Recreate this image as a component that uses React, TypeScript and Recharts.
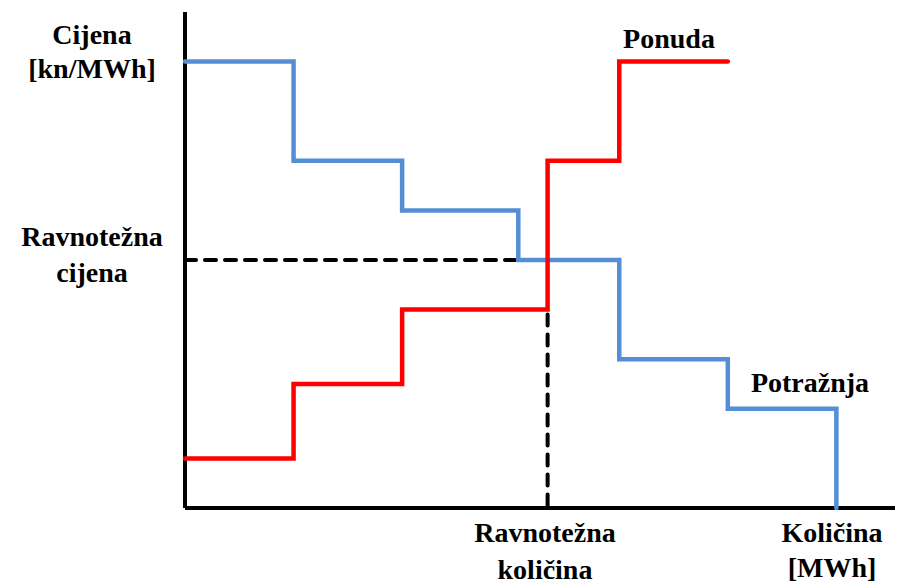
import { LineChart, Line, XAxis, YAxis, ReferenceLine } from 'recharts';

// demand (blue) and supply (red) step curves, quantity x / price y
const demandX = [0, 1, 1, 2, 2, 3.07, 3.07, 4, 4, 5, 5, 6, 6];
const demandY = [9, 9, 7, 7, 6, 6, 5, 5, 3, 3, 2, 2, 0];
const supplyX = [0, 1, 1, 2, 2, 3.34, 3.34, 4, 4, 5];
const supplyY = [1, 1, 2.5, 2.5, 4, 4, 7, 7, 9, 9];
const eqPriceX = [0, 3.04];
const eqPriceY = [5, 5];
const eqQtyX = [3.34, 3.34];
const eqQtyY = [3.9, 0];

const yLabel = ['Cijena', '[kn/MWh]'];
const eqPriceLabel = ['Ravnotežna', 'cijena'];
const eqQtyLabel = ['Ravnotežna', 'količina'];
const xLabel = ['Količina', '[MWh]'];
const supplyName = 'Ponuda';
const demandName = 'Potražnja';

const toPoints = (xs: number[], ys: number[]) => xs.map((x, i) => ({ x, y: ys[i] }));

const W = 897;
const H = 586;

// serif bold only comes out right up to 28px in this browser
function TwoLines({ lines, x, y, gap = 36 }: { lines: string[]; x: number; y: number; gap?: number }) {
  return (
    <>
      {lines.map((t, i) => (
        <text key={i} x={x} y={y + i * gap} textAnchor="middle" fill="#000"
          style={{ fontFamily: 'Liberation Serif', fontWeight: 700, fontSize: 28 }}>{t}</text>
      ))}
    </>
  );
}

export default function App() {
  return (
    <div style={{ position: 'absolute', left: 0, top: 0, width: W, height: H, background: '#fff' }}>
      <LineChart width={W} height={H} margin={{ top: 12, right: 2, bottom: 77, left: 184 }}>
        <XAxis dataKey="x" type="number" domain={[0, 6.54]} height={1} tick={false} tickLine={false} axisLine={false} />
        <YAxis type="number" domain={[0, 10]} width={1} tick={false} tickLine={false} axisLine={false} />
        <ReferenceLine x={0} stroke="#000" strokeWidth={4} />
        <ReferenceLine y={0} stroke="#000" strokeWidth={4} />
        <Line data={toPoints(eqPriceX, eqPriceY)} dataKey="y" stroke="#000" strokeWidth={4}
          strokeDasharray="11 9" strokeLinecap="round" dot={false} activeDot={false} isAnimationActive={false} />
        <Line data={toPoints(eqQtyX, eqQtyY)} dataKey="y" stroke="#000" strokeWidth={4}
          strokeDasharray="11 9" strokeLinecap="round" dot={false} activeDot={false} isAnimationActive={false} />
        <Line data={toPoints(demandX, demandY)} dataKey="y" stroke="#558ED5" strokeWidth={4.5}
          strokeLinecap="round" dot={false} activeDot={false} isAnimationActive={false} />
        <Line data={toPoints(supplyX, supplyY)} dataKey="y" stroke="#FF0000" strokeWidth={4.5}
          strokeLinecap="round" dot={false} activeDot={false} isAnimationActive={false} />
      </LineChart>
      <svg width={W} height={H} style={{ position: 'absolute', left: 0, top: 0, pointerEvents: 'none' }}>
        <TwoLines lines={yLabel} x={92} y={44} gap={34} />
        <TwoLines lines={eqPriceLabel} x={92} y={246} />
        <TwoLines lines={[supplyName]} x={669} y={48} />
        <TwoLines lines={[demandName]} x={810} y={392} />
        <TwoLines lines={eqQtyLabel} x={545} y={542} gap={37} />
        <TwoLines lines={xLabel} x={832} y={542} gap={35} />
      </svg>
    </div>
  );
}
